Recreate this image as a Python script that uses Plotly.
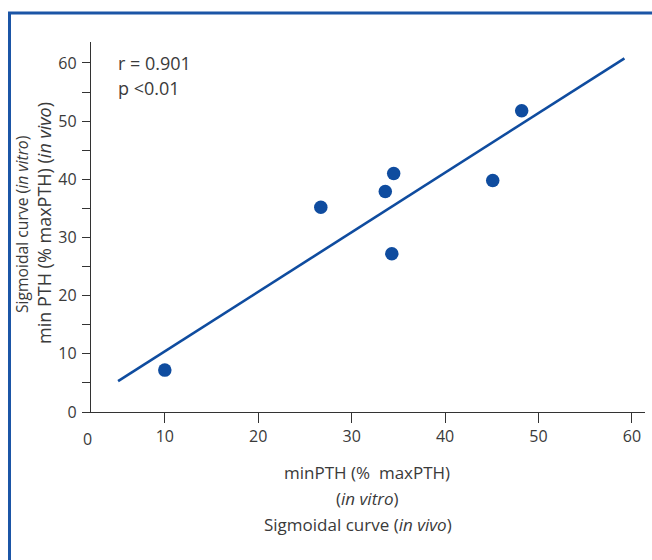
import plotly.graph_objects as go

# Data
x_invitro = [10.0, 26.7, 33.6, 34.5, 34.3, 45.1, 48.2]
y_invivo = [7.2, 35.2, 37.9, 41.0, 27.2, 39.8, 51.8]
fit_x = [5.0, 59.2]
fit_y = [5.3, 60.8]
x_ticks = [10, 20, 30, 40, 50, 60]
y_ticks = [0, 5, 10, 15, 20, 25, 30, 35, 40, 45, 50, 55, 60]
y_ticktext = ["0", "", "10", "", "20", "", "30", "", "40", "", "50", "", "60"]
stats_lines = ["r = 0.901", "p <0.01"]

W, H = 652, 560
L, R, T, B = 91, 7, 42, 148
pw, ph = W - L - R, H - T - B

def px(xp):
    return (xp - L) / pw

def py(yp):
    return (H - B - yp) / ph

blue = "#0f4c9f"
txt = "#3a3a3a"
font = "Open Sans"

fig = go.Figure()
fig.add_trace(go.Scatter(x=fit_x, y=fit_y, mode="lines",
                         line=dict(color=blue, width=2.6), showlegend=False))
fig.add_trace(go.Scatter(x=x_invitro, y=y_invivo, mode="markers",
                         marker=dict(color=blue, size=13.5), showlegend=False))

fig.update_layout(
    width=W, height=H,
    margin=dict(l=L, r=R, t=T, b=B),
    paper_bgcolor="white", plot_bgcolor="white",
    font=dict(family=font, color=txt, size=16),
    xaxis=dict(range=[2.1, 61.4], tickvals=x_ticks, showgrid=False, zeroline=False,
               showline=True, linecolor="#333", linewidth=1.3,
               ticks="outside", ticklen=10, tickwidth=1.3, tickcolor="#333",
               tickfont=dict(size=16, color=txt)),
    yaxis=dict(range=[0, 63.6], tickvals=y_ticks, ticktext=y_ticktext, showgrid=False,
               zeroline=False, showline=True, linecolor="#333", linewidth=1.3,
               ticks="outside", ticklen=8, tickwidth=1.3, tickcolor="#333",
               ticklabelstandoff=2,
               tickfont=dict(size=16, color=txt)),
)

def A(x, y, text, size, **kw):
    d = dict(x=px(x), y=py(y), xref="paper", yref="paper", text=text, showarrow=False,
             xanchor="center", yanchor="middle", font=dict(size=size, color=txt))
    d.update(kw)
    return d

ann = [A(87, 439, "0", 16)]
for i, s in enumerate(stats_lines):
    ann.append(A(116, 63 + 25 * i, s, 18, xanchor="left"))
ann.append(A(367, 472, "minPTH (%  maxPTH)", 17))
ann.append(A(367, 498, "(<i>in vitro</i>)", 17))
ann.append(A(358, 524, "Sigmoidal curve (<i>in vivo</i>)", 17))
ann.append(A(22, 225, "Sigmoidal curve (<i>in vitro</i>)", 15.7, textangle=-90))
ann.append(A(44, 223, "min PTH (% maxPTH) (<i>in vivo</i>)", 18, textangle=-90))
fig.update_layout(annotations=ann)

fig.add_shape(type="line", xref="paper", yref="paper", x0=px(8), x1=px(670), y0=py(13), y1=py(13),
              line=dict(color="#1b55a6", width=3))
fig.add_shape(type="line", xref="paper", yref="paper", x0=px(9.5), x1=px(9.5), y0=py(13), y1=py(580),
              line=dict(color="#1b55a6", width=3))

fig.write_html("out.html")
